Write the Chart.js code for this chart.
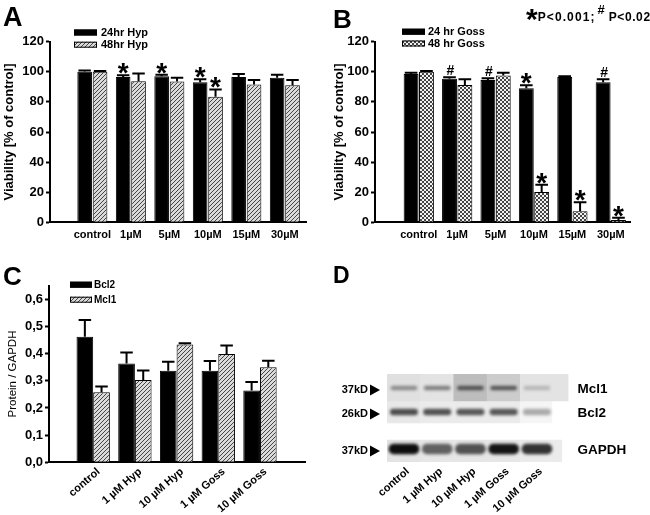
<!DOCTYPE html>
<html><head><meta charset="utf-8">
<script src="https://cdn.jsdelivr.net/npm/chart.js@4.4.1/dist/chart.umd.min.js"></script>
<style>
html,body{margin:0;padding:0;background:#fff;}
#wrap{position:relative;width:650px;height:515px;overflow:hidden;font-family:'Liberation Sans',Arial,sans-serif;color:#000;}
canvas{position:absolute;}
.pl{position:absolute;font-weight:bold;line-height:1;}
#note{position:absolute;left:526px;top:4px;font-weight:bold;white-space:nowrap;line-height:1;}
#note .big{font-size:30px;vertical-align:top;}
#note .p{font-size:12px;letter-spacing:1.1px;position:relative;top:4px;}
#note .hash{font-size:13px;position:relative;top:-3px;margin-left:2px;}
</style></head><body>
<div id="wrap">
<canvas id="cA" width="325" height="260" style="left:0;top:0"></canvas>
<canvas id="cB" width="325" height="260" style="left:325px;top:0"></canvas>
<canvas id="cC" width="325" height="255" style="left:0;top:260px"></canvas>
<canvas id="cD" width="325" height="255" style="left:325px;top:260px"></canvas>
<div class="pl" style="left:3px;top:4px;font-size:27px">A</div>
<div class="pl" style="left:333px;top:6px;font-size:26px">B</div>
<div class="pl" style="left:3px;top:263px;font-size:26px">C</div>
<div class="pl" style="left:333px;top:264px;font-size:23px">D</div>
<div id="note"><span class="big">*</span><span class="p">P&lt;0.001;</span><span class="hash">#</span><span class="p" style="letter-spacing:0.6px"> P&lt;0.02</span></div>
</div>
<script>
// ---------- data ----------
const groupsAB = ['control', '1µM', '5µM', '10µM', '15µM', '30µM'];
const yTicksAB = [0, 20, 40, 60, 80, 100, 120];
const hyp24 = [100, 96.5, 97, 93, 96.5, 96];
const hyp24Err = [0.8, 1.2, 1, 2, 2, 2];
const hyp24Sig = ['', '*', '*', '*', '', ''];
const hyp48 = [100, 93.8, 93.5, 83.5, 91.5, 91];
const hyp48Err = [0.6, 5, 2.5, 4.8, 3, 3.5];
const hyp48Sig = ['', '', '', '*', '', ''];
const goss24 = [98.5, 95.4, 94.5, 89, 96.5, 93];
const goss24Err = [0.8, 1, 1.2, 2, 0.5, 2];
const goss24Sig = ['', '#', '#', '*', '', '#'];
const goss48 = [100, 91.2, 97.5, 20.2, 7.3, 1.5];
const goss48Err = [0.6, 3.8, 1.8, 4.8, 6, 1.5];
const goss48Sig = ['', '', '', '*', '*', '*'];

const groupsC = ['control', '1 µM Hyp', '10 µM Hyp', '1 µM Goss', '10 µM Goss'];
const yTicksC = [0, 0.1, 0.2, 0.3, 0.4, 0.5, 0.6];
const bcl2 = [0.462, 0.364, 0.337, 0.337, 0.264];
const bcl2Err = [0.062, 0.04, 0.033, 0.036, 0.032];
const mcl1 = [0.258, 0.303, 0.434, 0.399, 0.35];
const mcl1Err = [0.021, 0.035, 0.004, 0.031, 0.024];

const lanesD = ['control', '1 µM Hyp', '10 µM Hyp', '1 µM Goss', '10 µM Goss'];
const blotProteins = ['Mcl1', 'Bcl2', 'GAPDH'];
const blotMarkers = ['37kD', '26kD', '37kD'];
const mcl1Band = [0.45, 0.5, 0.68, 0.66, 0.28];
const bcl2Band = [0.7, 0.68, 0.66, 0.66, 0.33];
const gapdhBand = [0.95, 0.62, 0.68, 0.92, 0.8];
const mcl1Membrane = [0.12, 0.11, 0.26, 0.2, 0.11];
const bcl2Membrane = [0.09, 0.08, 0.08, 0.08, 0.04];
const gapdhMembrane = [0.11, 0.1, 0.1, 0.1, 0.08];

// ---------- helpers ----------
Chart.defaults.font.family = "'Liberation Sans', Arial, sans-serif";
Chart.defaults.color = '#000';
Chart.defaults.animation = false;

function tile(fn) {
  const c = document.createElement('canvas'); c.width = 4; c.height = 4;
  const g = c.getContext('2d'); fn(g); return g.createPattern(c, 'repeat');
}
const diagHatch = tile(g => {
  g.fillStyle = '#dadada'; g.fillRect(0, 0, 4, 4);
  g.strokeStyle = '#444'; g.lineWidth = 1; g.beginPath();
  g.moveTo(0, 4); g.lineTo(4, 0); g.moveTo(-1, 1); g.lineTo(1, -1); g.moveTo(3, 5); g.lineTo(5, 3); g.stroke();
});
const crossHatch = tile(g => {
  g.fillStyle = '#f2f2f2'; g.fillRect(0, 0, 4, 4);
  g.strokeStyle = '#444'; g.lineWidth = 1; g.beginPath();
  g.moveTo(0, 4); g.lineTo(4, 0); g.moveTo(-1, 1); g.lineTo(1, -1); g.moveTo(3, 5); g.lineTo(5, 3);
  g.moveTo(0, 0); g.lineTo(4, 4); g.moveTo(-1, 3); g.lineTo(1, 5); g.moveTo(3, -1); g.lineTo(5, 1); g.stroke();
});

const extras = {
  id: 'extras',
  afterDatasetsDraw(chart, args, opts) {
    if (!opts || !opts.errors) return;
    const ctx = chart.ctx, ys = chart.scales.y;
    chart.data.datasets.forEach((ds, di) => {
      if (!ds.errors) return;
      chart.getDatasetMeta(di).data.forEach((el, i) => {
        const v = ds.data[i].y;
        const top = ys.getPixelForValue(v + ds.errors[i]);
        const half = el.width * opts.capRatio / 2;
        ctx.save();
        ctx.strokeStyle = '#000'; ctx.lineWidth = 2;
        ctx.beginPath();
        ctx.moveTo(el.x, el.y); ctx.lineTo(el.x, top);
        ctx.moveTo(el.x - half, top); ctx.lineTo(el.x + half, top);
        ctx.stroke();
        const m = ds.marks && ds.marks[i];
        if (m) {
          ctx.fillStyle = '#000'; ctx.textAlign = 'center'; ctx.textBaseline = 'alphabetic';
          if (m === '*') { ctx.font = "bold 28px 'Liberation Sans', Arial"; ctx.fillText('*', el.x, top + 7); }
          else { ctx.font = "bold 14px 'Liberation Sans', Arial"; ctx.fillText('#', el.x + 1, top - 2); }
        }
        ctx.restore();
      });
    });
  },
  afterDraw(chart, args, opts) {
    if (!opts || !opts.legend) return;
    const L = opts.legend, ctx = chart.ctx;
    chart.data.datasets.forEach((ds, i) => {
      const yc = L.y + i * L.dy;
      ctx.save();
      ctx.fillStyle = ds.backgroundColor;
      ctx.fillRect(L.x, yc - L.h / 2, L.w, L.h);
      ctx.strokeStyle = '#000'; ctx.lineWidth = 1;
      ctx.strokeRect(L.x + 0.5, yc - L.h / 2 + 0.5, L.w - 1, L.h - 1);
      ctx.fillStyle = '#000'; ctx.font = L.font; ctx.textAlign = 'left'; ctx.textBaseline = 'middle';
      ctx.fillText(ds.label, L.x + L.w + L.gap, yc + 0.5);
      ctx.restore();
    });
  }
};

function groupX(labels, min, max, height, pad) {
  return {
    type: 'linear', min, max, offset: false,
    grid: { display: false, drawTicks: false, offset: false },
    border: { display: true, color: '#000', width: 2 },
    afterBuildTicks: ax => { ax.ticks = labels.map((_, i) => ({ value: i })); },
    afterFit: ax => { ax.height = height; },
    ticks: { autoSkip: false, minRotation: 0, maxRotation: 0, padding: pad,
      font: { weight: 'bold', size: 11 }, callback: v => labels[v] }
  };
}
function baseX(labels, min, max, showBorder) {
  return {
    type: 'linear', min, max, offset: false, weight: 0,
    grid: { display: false, drawTicks: false, offset: false },
    border: { display: showBorder, color: '#000', width: 2 },
    afterBuildTicks: ax => { ax.ticks = labels.map((_, i) => ({ value: i })); },
    afterFit: ax => { ax.height = 0; },
    ticks: { display: false }
  };
}
function slantX(labels, min, max, shift, height, pad) {
  return {
    type: 'linear', position: 'bottom', min: min - shift, max: max - shift, offset: false, weight: 1,
    grid: { display: false, drawTicks: false, offset: false },
    border: { display: false },
    afterBuildTicks: ax => { ax.ticks = labels.map((_, i) => ({ value: i })); },
    afterFit: ax => { ax.height = height; },
    ticks: { autoSkip: false, minRotation: 41, maxRotation: 41, padding: pad,
      font: { weight: 'bold', size: 11 }, callback: v => labels[v] }
  };
}
function valueY(min, max, ticks, width, title, tfont, tpad, fmt) {
  return {
    min, max,
    afterBuildTicks: ax => { ax.ticks = ticks.map(v => ({ value: v })); },
    afterFit: ax => { ax.width = width; },
    grid: { display: true, drawOnChartArea: false, drawTicks: true, tickLength: 4, tickColor: '#000', tickWidth: 2 },
    border: { display: true, color: '#000', width: 2 },
    ticks: { padding: 2, font: { weight: 'bold', size: 13 }, callback: fmt },
    title: { display: true, text: title, font: tfont, padding: { top: tpad, bottom: 0 } }
  };
}
function barSet(label, vals, errs, marks, bg, cp, bp) {
  return { label, data: vals.map((v, i) => ({ x: i, y: v })), errors: errs, marks,
    backgroundColor: bg, borderColor: '#000', borderWidth: 1, categoryPercentage: cp, barPercentage: bp };
}

// ---------- Panel A ----------
new Chart(document.getElementById('cA'), {
  type: 'bar',
  data: { datasets: [
    barSet('24hr Hyp', hyp24, hyp24Err, hyp24Sig, '#000', 0.8, 0.95),
    barSet('48hr Hyp', hyp48, hyp48Err, hyp48Sig, diagHatch, 0.8, 0.95)
  ] },
  options: {
    responsive: false,
    layout: { padding: { left: 0, top: 41.7, right: 19, bottom: 0 } },
    scales: {
      x: groupX(groupsAB, -1.1, 5.55, 37.7, 6),
      y: valueY(0, 120, yTicksAB, 50, 'Viability [% of control]', { weight: 'bold', size: 13 }, 2, v => v)
    },
    plugins: { legend: { display: false }, tooltip: { enabled: false },
      extras: { errors: true, capRatio: 0.85,
        legend: { x: 74, y: 32.5, dy: 12.2, w: 23, h: 6, gap: 4, font: "bold 11px 'Liberation Sans', Arial" } } }
  },
  plugins: [extras]
});

// ---------- Panel B ----------
new Chart(document.getElementById('cB'), {
  type: 'bar',
  data: { datasets: [
    barSet('24 hr Goss', goss24, goss24Err, goss24Sig, '#000', 0.8, 0.97),
    barSet('48 hr Goss', goss48, goss48Err, goss48Sig, crossHatch, 0.8, 0.97)
  ] },
  options: {
    responsive: false,
    layout: { padding: { left: 0, top: 41.7, right: 20, bottom: 0 } },
    scales: {
      x: groupX(groupsAB, -1.14, 5.5, 37.7, 6),
      y: valueY(0, 120, yTicksAB, 50, 'Viability [% of control]', { weight: 'bold', size: 13 }, 7, v => v)
    },
    plugins: { legend: { display: false }, tooltip: { enabled: false },
      extras: { errors: true, capRatio: 0.85,
        legend: { x: 77, y: 31.7, dy: 11.8, w: 23, h: 6, gap: 3, font: "bold 11px 'Liberation Sans', Arial" } } }
  },
  plugins: [extras]
});

// ---------- Panel C ----------
new Chart(document.getElementById('cC'), {
  type: 'bar',
  data: { datasets: [
    barSet('Bcl2', bcl2, bcl2Err, null, '#000', 0.8, 1.0),
    barSet('Mcl1', mcl1, mcl1Err, null, diagHatch, 0.8, 1.0)
  ] },
  options: {
    responsive: false,
    layout: { padding: { left: 0, top: 25.7, right: 20, bottom: 0 } },
    scales: {
      x: baseX(groupsC, -1.06, 5.08, true),
      xl: slantX(groupsC, -1.06, 5.08, 0.13, 52.7, 3),
      y: valueY(0, 0.65, yTicksC, 49, 'Protein / GAPDH', { weight: 'normal', size: 11.5 }, 6,
        v => v.toFixed(1).replace('.', ','))
    },
    plugins: { legend: { display: false }, tooltip: { enabled: false },
      extras: { errors: true, capRatio: 0.75,
        legend: { x: 70, y: 24.7, dy: 15, w: 22, h: 6, gap: 2, font: "bold 10px 'Liberation Sans', Arial" } } }
  },
  plugins: [extras]
});

// ---------- Panel D (western blot) ----------
const gray = l => { const c = Math.round(255 * (1 - l)); return `rgb(${c},${c},${c})`; };
const stripRows = [13.5, 38, 77];
const stripThick = [27, 22, 22];
const stripRight = [4.95, 4.45, 4.75];
const bandRows = [14, 38, 75];
const bandThick = [4, 6, 10];
const bandWidth = [0.78, 0.82, 0.9];
const membranes = [mcl1Membrane, bcl2Membrane, gapdhMembrane];
const bands = [mcl1Band, bcl2Band, gapdhBand];

const dSets = [];
membranes.forEach((lv, r) => dSets.push({
  data: lv.map((l, i) => ({ y: stripRows[r], x: [i - 0.5, i === lv.length - 1 ? stripRight[r] : i + 0.5] })),
  backgroundColor: lv.map(gray), borderWidth: 0, barThickness: stripThick[r], grouped: false, blur: 0.6, order: 2
}));
bands.forEach((lv, r) => dSets.push({
  data: lv.map((l, i) => ({ y: bandRows[r], x: [i - bandWidth[r] / 2, i + bandWidth[r] / 2] })),
  backgroundColor: lv.map(gray), borderWidth: 0, borderRadius: 5, borderSkipped: false,
  barThickness: bandThick[r], grouped: false, blur: 1.5, order: 1
}));

const blotPlugin = {
  id: 'blot',
  beforeDatasetDraw(chart, args) {
    const ds = chart.data.datasets[args.index];
    chart.ctx.save();
    if (ds.blur) chart.ctx.filter = `blur(${ds.blur}px)`;
  },
  afterDatasetDraw(chart) { chart.ctx.restore(); },
  afterDraw(chart) {
    const ctx = chart.ctx, ys = chart.scales.y, a = chart.chartArea;
    ctx.save();
    ctx.fillStyle = '#000';
    blotProteins.forEach((p, r) => {
      const yp = ys.getPixelForValue(bandRows[r]);
      ctx.font = "bold 11px 'Liberation Sans', Arial"; ctx.textAlign = 'right'; ctx.textBaseline = 'middle';
      ctx.fillText(blotMarkers[r], a.left - 19, yp + 2);
      ctx.beginPath();
      ctx.moveTo(a.left - 17, yp + 2 - 5.5); ctx.lineTo(a.left - 7, yp + 2); ctx.lineTo(a.left - 17, yp + 2 + 5.5);
      ctx.closePath(); ctx.fill();
      ctx.font = "bold 13.5px 'Liberation Sans', Arial"; ctx.textAlign = 'left';
      ctx.fillText(p, a.right + 9, yp + 1);
    });
    ctx.restore();
  }
};

new Chart(document.getElementById('cD'), {
  type: 'bar',
  data: { datasets: dSets },
  options: {
    indexAxis: 'y',
    responsive: false,
    layout: { padding: { left: 62, top: 114, right: 81.5, bottom: 0 } },
    scales: {
      y: { type: 'linear', min: 0, max: 88, reverse: true, display: false, offset: false },
      x: baseX(lanesD, -0.51, 4.95, false),
      xl: slantX(lanesD, -0.51, 4.95, 0.12, 53, 3)
    },
    plugins: { legend: { display: false }, tooltip: { enabled: false } }
  },
  plugins: [blotPlugin]
});
</script>
</body></html>
